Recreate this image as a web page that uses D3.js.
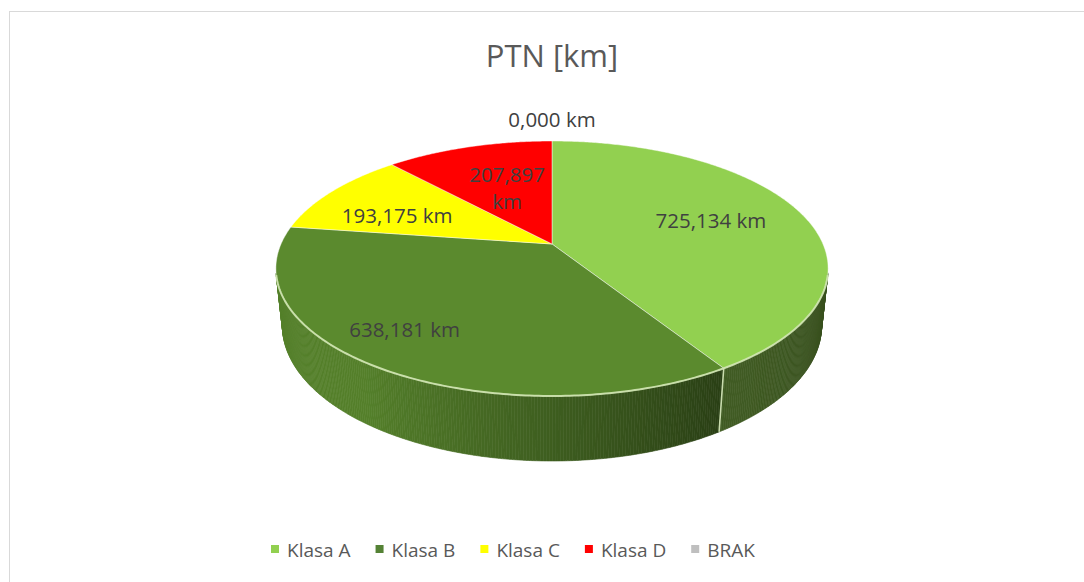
<!DOCTYPE html>
<html><head><meta charset="utf-8">
<script src="https://cdn.jsdelivr.net/npm/d3@7/dist/d3.min.js"></script>
<style>body{margin:0;background:#fff} svg{display:block} text{font-family:"Open Sans",sans-serif}</style>
</head><body><svg id="c" width="1084" height="582"></svg>
<script>
// ---- data ----
const title = "PTN [km]";
const categories = ["Klasa A", "Klasa B", "Klasa C", "Klasa D", "BRAK"];
const values = [725.134, 638.181, 193.175, 207.897, 0.000];
const unit = "km";
const topColors = ["#92d050", "#5b8a2e", "#ffff00", "#ff0000", "#bfbfbf"];
const legendColors = ["#92d050", "#548235", "#ffff00", "#ff0000", "#bfbfbf"];
// label layout (angle offset in degrees from slice middle, radius fraction, wrap)
const labelAngleOffset = [-2, 4.9, -5.9, 1.2, 0];
const labelRadius = [0.64, 0.78, 0.645, 0.53, 1.25];
const labelWrap = [false, false, false, true, false];

// ---- setup ----
const svg = d3.select("#c");
svg.append("rect").attr("x", 9.5).attr("y", 11.5).attr("width", 1100).attr("height", 600)
  .attr("fill", "#fff").attr("stroke", "#d9d9d9").attr("stroke-width", 1);

svg.append("text").attr("x", 552).attr("y", 67).attr("text-anchor", "middle")
  .attr("font-size", 31).attr("fill", "#595959").text(title);

const fmt = d3.formatLocale({decimal: ",", thousands: " ", grouping: [3]}).format(".3f");

// perspective camera
const cam = {cx: 552, cy: 244, F: 1257, d: 4.639, alpha: Math.asin(0.4531), h: 0.2384};
const sA = Math.sin(cam.alpha), cA = Math.cos(cam.alpha);
const rScale = d3.scaleLinear().domain([0, 1]).range([0, 1]);
function proj(theta, r, y) {
  const rr = rScale(r);
  const X = rr * Math.sin(theta), Z = -rr * Math.cos(theta), Y = y;
  const depth = cam.d - Y * sA - Z * cA;
  const up = Y * cA - Z * sA;
  return [cam.cx + cam.F * X / depth, cam.cy - cam.F * up / depth, depth];
}

const pie = d3.pie().sort(null).value(d => d).startAngle(0).endAngle(2 * Math.PI);
const arcs = pie(values);
const deg = Math.PI / 180;

function shade(hex, f) {
  const c = d3.rgb(hex);
  return d3.rgb(c.r * f, c.g * f, c.b * f).formatHex();
}
function sideFactor(thDeg) {
  if (thDeg < 148) return 0.38 + (thDeg - 104) * 0.0014;
  return Math.min(0.92, 0.46 + (thDeg - 148) * 0.0068);
}

// ---- side walls ----
const gSide = svg.append("g");
const visLimit = -1 / (cam.d * cA);
arcs.forEach((a, i) => {
  if (a.endAngle - a.startAngle <= 0) return;
  const step = 0.5 * deg;
  for (let t = a.startAngle; t < a.endAngle - 1e-9; t += step) {
    const t1 = Math.min(a.endAngle, t + step);
    const mid = (t + t1) / 2;
    if (Math.cos(mid) > visLimit + 0.02) continue;
    const p0 = proj(t, 1, 0), p1 = proj(t1, 1, 0), q1 = proj(t1, 1, -cam.h), q0 = proj(t, 1, -cam.h);
    const col = shade(topColors[i], sideFactor(mid / deg));
    gSide.append("path")
      .attr("d", d3.line()([p0, p1, q1, q0].map(p => [p[0], p[1]])) + "Z")
      .attr("fill", col).attr("stroke", col).attr("stroke-width", 0.6);
  }
});

// divider lines on side at visible slice boundaries
arcs.forEach((a) => {
  const t = a.startAngle;
  if (Math.cos(t) < visLimit && a.endAngle > a.startAngle) {
    const p = proj(t, 1, 0), q = proj(t, 1, -cam.h);
    svg.append("line").attr("x1", p[0]).attr("y1", p[1]).attr("x2", q[0]).attr("y2", q[1])
      .attr("stroke", "#c9dcae").attr("stroke-width", 1.6);
  }
});

// ---- top faces ----
const gTop = svg.append("g");
const center = proj(0, 0, 0);
arcs.forEach((a, i) => {
  if (a.endAngle - a.startAngle <= 0) return;
  const pts = [[center[0], center[1]]];
  const n = Math.max(2, Math.ceil((a.endAngle - a.startAngle) / (0.5 * deg)));
  for (let k = 0; k <= n; k++) {
    const t = a.startAngle + (a.endAngle - a.startAngle) * k / n;
    const p = proj(t, 1, 0);
    pts.push([p[0], p[1]]);
  }
  gTop.append("path").attr("d", d3.line()(pts) + "Z")
    .attr("fill", topColors[i]).attr("stroke", "rgba(255,255,255,0.45)").attr("stroke-width", 1)
    .attr("stroke-linejoin", "round");
});

// front rim highlight
{
  const t0 = Math.acos(visLimit), t1 = 2 * Math.PI - t0;
  const pts = d3.range(0, 201).map(k => {
    const t = t0 + (t1 - t0) * k / 200; const p = proj(t, 1, 0); return [p[0], p[1]];
  });
  svg.append("path").attr("d", d3.line()(pts)).attr("fill", "none")
    .attr("stroke", "#cfe4b0").attr("stroke-width", 2).attr("stroke-opacity", 0.9);
}

// ---- data labels ----
arcs.forEach((a, i) => {
  const mid = (a.startAngle + a.endAngle) / 2 + labelAngleOffset[i] * deg;
  const p = proj(mid, labelRadius[i], 0);
  const txt = fmt(values[i]);
  const t = svg.append("text").attr("x", p[0]).attr("y", p[1]).attr("text-anchor", "middle")
    .attr("font-size", 20.5).attr("fill", "#404040");
  if (labelWrap[i]) {
    t.append("tspan").attr("x", p[0]).attr("dy", "-0.3em").text(txt);
    t.append("tspan").attr("x", p[0]).attr("dy", "1.3em").text(unit);
  } else {
    t.attr("dy", "0.35em").text(txt + " " + unit);
  }
});

// ---- legend ----
const lg = svg.append("g");
let x = 271;
categories.forEach((c, i) => {
  lg.append("rect").attr("x", x).attr("y", 545).attr("width", 8).attr("height", 8).attr("fill", legendColors[i]);
  const t = lg.append("text").attr("x", x + 16).attr("y", 557).attr("font-size", 19)
    .attr("fill", "#595959").text(c);
  x += 16 + t.node().getComputedTextLength() + 25;
});
</script></body></html>
